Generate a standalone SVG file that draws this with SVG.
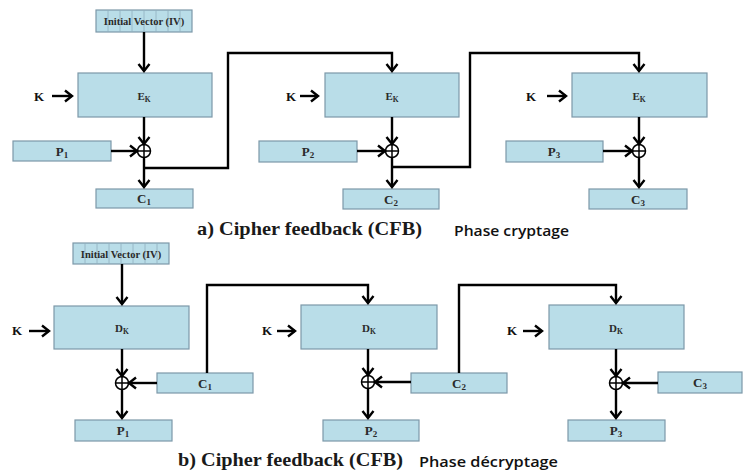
<svg xmlns="http://www.w3.org/2000/svg" width="743" height="474" viewBox="0 0 743 474">
  <style>
    .box { fill: #b9dde8; stroke: #7c98a8; stroke-width: 1.2; }
    .cell { stroke: #8fb0bf; stroke-width: 0.8; }
    .lbl { font-family: "Liberation Serif", "Times New Roman", serif; font-weight: bold; fill: #2a2a2a; text-anchor: middle; }
    .blk { font-size: 11px; }
    .io { font-size: 13px; }
    .iv { font-size: 10.5px; }
    .k { font-family: "Liberation Serif", "Times New Roman", serif; font-weight: bold; font-size: 13px; fill: #111; text-anchor: middle; }
    .cap { font-family: "Liberation Serif", "Times New Roman", serif; font-weight: bold; font-size: 19px; fill: #1a1a1a; }
    .phase { font-family: "Open Sans", "Liberation Sans", Arial, sans-serif; font-weight: 600; font-size: 15px; fill: #111; }
    .wire { fill: none; stroke: #000; stroke-width: 2.4; }
    .arrow { fill: none; stroke: #000; stroke-width: 2.4; marker-end: url(#head); }
    .xor { fill: #fff; stroke: #000; stroke-width: 1.5; }
    .xorp { stroke: #000; stroke-width: 1.5; }
  </style>
  <defs>
    <marker id="head" markerUnits="userSpaceOnUse" markerWidth="14" markerHeight="16" refX="10" refY="8" orient="auto">
      <path d="M3,2.5 L10,8 L3,13.5" fill="none" stroke="#000" stroke-width="2.4"/>
    </marker>
    <g id="xorSym">
      <circle class="xor" cx="0" cy="0" r="6.5"/>
      <line class="xorp" x1="-6.5" y1="0" x2="6.5" y2="0"/>
      <line class="xorp" x1="0" y1="-6.5" x2="0" y2="6.5"/>
    </g>
  </defs>

  <rect width="743" height="474" fill="#fff"/>

  <!-- ===== a) encryption ===== -->
  <g id="enc-iv">
    <rect class="box" x="96" y="10" width="96" height="22"/>
    <g class="cell">
      <line x1="108" y1="10" x2="108" y2="32"/><line x1="120" y1="10" x2="120" y2="32"/>
      <line x1="132" y1="10" x2="132" y2="32"/><line x1="144" y1="10" x2="144" y2="32"/>
      <line x1="156" y1="10" x2="156" y2="32"/><line x1="168" y1="10" x2="168" y2="32"/>
      <line x1="180" y1="10" x2="180" y2="32"/>
    </g>
    <text class="lbl iv" x="144" y="25">Initial Vector (IV)</text>
  </g>

  <g id="enc-e1">
    <rect class="box" x="78" y="73" width="134" height="44"/>
    <text class="lbl blk" x="144" y="100">E<tspan font-size="7.5" dy="2">K</tspan></text>
  </g>
  <g id="enc-e2">
    <rect class="box" x="325" y="73" width="134" height="44"/>
    <text class="lbl blk" x="392" y="100">E<tspan font-size="7.5" dy="2">K</tspan></text>
  </g>
  <g id="enc-e3">
    <rect class="box" x="572" y="73" width="135" height="44"/>
    <text class="lbl blk" x="639" y="100">E<tspan font-size="7.5" dy="2">K</tspan></text>
  </g>

  <g id="enc-p1">
    <rect class="box" x="13" y="141" width="98" height="20"/>
    <text class="lbl io" x="62" y="156">P<tspan font-size="9" dy="2">1</tspan></text>
  </g>
  <g id="enc-p2">
    <rect class="box" x="259" y="141" width="98" height="21"/>
    <text class="lbl io" x="308" y="156">P<tspan font-size="9" dy="2">2</tspan></text>
  </g>
  <g id="enc-p3">
    <rect class="box" x="506" y="141" width="97" height="21"/>
    <text class="lbl io" x="554" y="156">P<tspan font-size="9" dy="2">3</tspan></text>
  </g>

  <g id="enc-c1">
    <rect class="box" x="96" y="189" width="97" height="19"/>
    <text class="lbl io" x="144" y="203">C<tspan font-size="9" dy="2">1</tspan></text>
  </g>
  <g id="enc-c2">
    <rect class="box" x="343" y="189" width="96" height="20"/>
    <text class="lbl io" x="391" y="204">C<tspan font-size="9" dy="2">2</tspan></text>
  </g>
  <g id="enc-c3">
    <rect class="box" x="589" y="189" width="98" height="20"/>
    <text class="lbl io" x="638" y="204">C<tspan font-size="9" dy="2">3</tspan></text>
  </g>

  <g id="enc-xor1"><use href="#xorSym" x="144" y="151"/></g>
  <g id="enc-xor2"><use href="#xorSym" x="392" y="151"/></g>
  <g id="enc-xor3"><use href="#xorSym" x="639" y="151"/></g>

  <g id="enc-keys">
    <text class="k" x="39" y="101">K</text>
    <text class="k" x="291" y="101">K</text>
    <text class="k" x="531" y="101">K</text>
  </g>

  <!-- ===== b) decryption ===== -->
  <g id="dec-iv">
    <rect class="box" x="73" y="243" width="96" height="21"/>
    <g class="cell">
      <line x1="85" y1="243" x2="85" y2="264"/><line x1="97" y1="243" x2="97" y2="264"/>
      <line x1="109" y1="243" x2="109" y2="264"/><line x1="121" y1="243" x2="121" y2="264"/>
      <line x1="133" y1="243" x2="133" y2="264"/><line x1="145" y1="243" x2="145" y2="264"/>
      <line x1="157" y1="243" x2="157" y2="264"/>
    </g>
    <text class="lbl iv" x="121" y="257.5">Initial Vector (IV)</text>
  </g>

  <g id="dec-d1">
    <rect class="box" x="54" y="306" width="135" height="43"/>
    <text class="lbl blk" x="122" y="332">D<tspan font-size="7.5" dy="2">K</tspan></text>
  </g>
  <g id="dec-d2">
    <rect class="box" x="301" y="305" width="136" height="44"/>
    <text class="lbl blk" x="369" y="332">D<tspan font-size="7.5" dy="2">K</tspan></text>
  </g>
  <g id="dec-d3">
    <rect class="box" x="549" y="305" width="135" height="44"/>
    <text class="lbl blk" x="616" y="332">D<tspan font-size="7.5" dy="2">K</tspan></text>
  </g>

  <g id="dec-c1">
    <rect class="box" x="157" y="373" width="96" height="20"/>
    <text class="lbl io" x="205" y="388">C<tspan font-size="9" dy="2">1</tspan></text>
  </g>
  <g id="dec-c2">
    <rect class="box" x="411" y="373" width="96" height="20"/>
    <text class="lbl io" x="459" y="388">C<tspan font-size="9" dy="2">2</tspan></text>
  </g>
  <g id="dec-c3">
    <rect class="box" x="658" y="372" width="84" height="21"/>
    <text class="lbl io" x="700" y="387">C<tspan font-size="9" dy="2">3</tspan></text>
  </g>

  <g id="dec-p1">
    <rect class="box" x="75" y="420" width="97" height="21"/>
    <text class="lbl io" x="123" y="435">P<tspan font-size="9" dy="2">1</tspan></text>
  </g>
  <g id="dec-p2">
    <rect class="box" x="323" y="420" width="96" height="21"/>
    <text class="lbl io" x="371" y="435">P<tspan font-size="9" dy="2">2</tspan></text>
  </g>
  <g id="dec-p3">
    <rect class="box" x="568" y="420" width="97" height="21"/>
    <text class="lbl io" x="616" y="435">P<tspan font-size="9" dy="2">3</tspan></text>
  </g>

  <g id="dec-xor1"><use href="#xorSym" x="122" y="383"/></g>
  <g id="dec-xor2"><use href="#xorSym" x="368" y="382"/></g>
  <g id="dec-xor3"><use href="#xorSym" x="616" y="383"/></g>

  <g id="dec-keys">
    <text class="k" x="17" y="335">K</text>
    <text class="k" x="267" y="335">K</text>
    <text class="k" x="512" y="335">K</text>
  </g>

  <!-- connectors -->
  <g id="connectors">
    <!-- encryption -->
    <path class="arrow" d="M144,32 V71"/>
    <path class="arrow" d="M52,96 H72"/>
    <path class="arrow" d="M300,96 H318"/>
    <path class="arrow" d="M547,96 H566"/>
    <path class="arrow" d="M144,117 V144"/>
    <path class="arrow" d="M392,117 V144"/>
    <path class="arrow" d="M639,117 V144"/>
    <path class="arrow" d="M111,151 H137"/>
    <path class="arrow" d="M357,151 H385"/>
    <path class="arrow" d="M603,151 H632"/>
    <path class="arrow" d="M144,157.5 V187"/>
    <path class="arrow" d="M392,157.5 V187"/>
    <path class="arrow" d="M639,157.5 V187"/>
    <path class="arrow" d="M144,168 H228 V53 H392 V71"/>
    <path class="arrow" d="M392,167 H470 V53 H639 V71"/>
    <!-- decryption -->
    <path class="arrow" d="M122,264 V304"/>
    <path class="arrow" d="M29,331 H49"/>
    <path class="arrow" d="M277,331 H295"/>
    <path class="arrow" d="M523,331 H542"/>
    <path class="arrow" d="M122,349 V376"/>
    <path class="arrow" d="M368,349 V375"/>
    <path class="arrow" d="M616,349 V376"/>
    <path class="arrow" d="M157,383 H129"/>
    <path class="arrow" d="M411,382 H375"/>
    <path class="arrow" d="M658,383 H623"/>
    <path class="arrow" d="M122,389.5 V418"/>
    <path class="arrow" d="M368,388.5 V418"/>
    <path class="arrow" d="M616,389.5 V418"/>
    <path class="arrow" d="M207,373 V285 H368 V303"/>
    <path class="arrow" d="M459,373 V285 H616 V303"/>
  </g>

  <!-- captions -->
  <g id="captions">
    <text class="cap" x="197" y="235" textLength="225" lengthAdjust="spacingAndGlyphs">a) Cipher feedback (CFB)</text>
    <text class="phase" x="454" y="236" textLength="115" lengthAdjust="spacingAndGlyphs">Phase cryptage</text>
    <text class="cap" x="178" y="466" textLength="225" lengthAdjust="spacingAndGlyphs">b) Cipher feedback (CFB)</text>
    <text class="phase" x="419" y="467" textLength="139" lengthAdjust="spacingAndGlyphs">Phase décryptage</text>
  </g>
</svg>
